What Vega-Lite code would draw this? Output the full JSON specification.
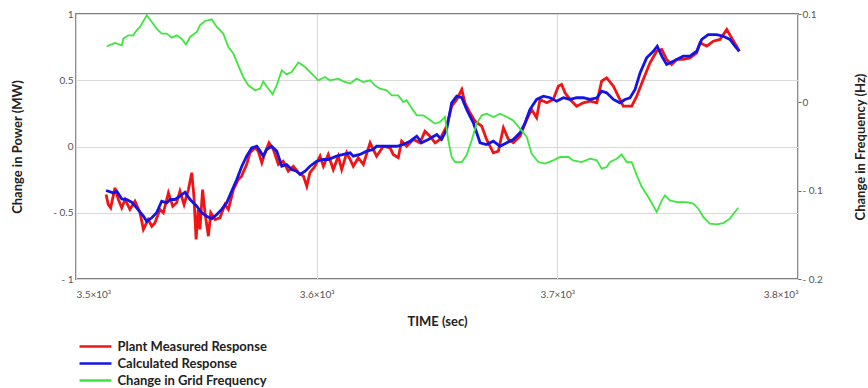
{
  "$schema": "https://vega.github.io/schema/vega-lite/v6.json",
  "autosize": {"type": "none"},
  "padding": {"left": 76, "top": 14, "right": 70, "bottom": 109},
  "width": 722,
  "height": 265,
  "background": "white",
  "config": {
    "font": "Lato",
    "view": {"stroke": "#808080", "strokeWidth": 1.8},
    "axis": {"labelFont": "Lato", "labelFontSize": 10, "labelColor": "#555555", "titleFont": "Lato", "titleFontSize": 13, "titleFontWeight": "bold", "titleColor": "#222222", "gridColor": "#d9d9d9", "gridWidth": 1, "domain": false, "tickColor": "#666666"},
    "legend": {"orient": "none", "legendX": 9.5, "legendY": 322.5, "padding": 0, "symbolType": "M-1.88,0H1.88", "symbolSize": 289, "symbolStrokeWidth": 2.5, "labelFont": "Lato", "labelFontSize": 13, "labelFontWeight": "bold", "labelColor": "#222222", "labelOffset": 12, "rowPadding": 0, "title": null}
  },
  "datasets": {
    "measured": [
      {"t":3512.5,"v":-0.362},{"t":3513.4,"v":-0.438},{"t":3514.4,"v":-0.463},{"t":3516.2,"v":-0.312},{"t":3517.6,"v":-0.4},{"t":3519.0,"v":-0.463},{"t":3520.4,"v":-0.4},{"t":3522.4,"v":-0.475},{"t":3524.5,"v":-0.413},{"t":3526.6,"v":-0.5},{"t":3528.0,"v":-0.626},{"t":3530.0,"v":-0.551},{"t":3531.5,"v":-0.602},{"t":3532.8,"v":-0.576},{"t":3534.9,"v":-0.475},{"t":3536.3,"v":-0.5},{"t":3538.4,"v":-0.349},{"t":3540.2,"v":-0.451},{"t":3541.8,"v":-0.425},{"t":3543.2,"v":-0.337},{"t":3544.9,"v":-0.438},{"t":3546.7,"v":-0.325},{"t":3548.1,"v":-0.198},{"t":3549.0,"v":-0.375},{"t":3549.9,"v":-0.702},{"t":3550.8,"v":-0.475},{"t":3551.5,"v":-0.626},{"t":3552.6,"v":-0.325},{"t":3553.6,"v":-0.5},{"t":3555.0,"v":-0.677},{"t":3556.0,"v":-0.5},{"t":3557.8,"v":-0.551},{"t":3559.8,"v":-0.538},{"t":3561.9,"v":-0.438},{"t":3563.3,"v":-0.475},{"t":3565.4,"v":-0.325},{"t":3567.4,"v":-0.249},{"t":3568.8,"v":-0.224},{"t":3570.9,"v":-0.136},{"t":3572.3,"v":-0.048},{"t":3574.4,"v":-0.01},{"t":3575.7,"v":-0.035},{"t":3577.2,"v":-0.123},{"t":3578.5,"v":-0.048},{"t":3580.2,"v":0.028},{"t":3582.0,"v":-0.023},{"t":3584.1,"v":-0.136},{"t":3586.1,"v":-0.111},{"t":3588.2,"v":-0.186},{"t":3590.3,"v":-0.149},{"t":3592.4,"v":-0.198},{"t":3594.5,"v":-0.224},{"t":3595.9,"v":-0.3},{"t":3597.2,"v":-0.198},{"t":3599.3,"v":-0.149},{"t":3601.4,"v":-0.073},{"t":3602.8,"v":-0.149},{"t":3604.8,"v":-0.06},{"t":3606.9,"v":-0.174},{"t":3609.0,"v":-0.073},{"t":3610.4,"v":-0.174},{"t":3612.5,"v":-0.048},{"t":3613.9,"v":-0.098},{"t":3615.2,"v":-0.149},{"t":3617.3,"v":-0.085},{"t":3619.4,"v":-0.136},{"t":3622.2,"v":0.028},{"t":3624.9,"v":-0.073},{"t":3627.7,"v":0.002},{"t":3630.5,"v":-0.01},{"t":3631.8,"v":-0.06},{"t":3633.9,"v":-0.085},{"t":3635.3,"v":0.04},{"t":3637.4,"v":0.002},{"t":3640.2,"v":0.053},{"t":3642.9,"v":0.028},{"t":3645.0,"v":0.115},{"t":3647.1,"v":0.078},{"t":3649.2,"v":0.028},{"t":3651.2,"v":0.053},{"t":3654.0,"v":0.153},{"t":3656.1,"v":0.304},{"t":3658.2,"v":0.355},{"t":3660.3,"v":0.43},{"t":3661.6,"v":0.33},{"t":3663.7,"v":0.254},{"t":3665.8,"v":0.191},{"t":3668.6,"v":0.153},{"t":3670.6,"v":0.053},{"t":3673.4,"v":-0.048},{"t":3675.5,"v":-0.035},{"t":3677.6,"v":0.141},{"t":3679.7,"v":0.053},{"t":3681.7,"v":0.028},{"t":3684.5,"v":0.078},{"t":3687.3,"v":0.204},{"t":3689.3,"v":0.279},{"t":3691.4,"v":0.217},{"t":3692.8,"v":0.355},{"t":3695.6,"v":0.33},{"t":3698.3,"v":0.355},{"t":3700.4,"v":0.455},{"t":3701.8,"v":0.468},{"t":3703.2,"v":0.405},{"t":3705.3,"v":0.355},{"t":3708.0,"v":0.304},{"t":3710.8,"v":0.33},{"t":3713.6,"v":0.342},{"t":3716.4,"v":0.33},{"t":3718.4,"v":0.493},{"t":3720.5,"v":0.518},{"t":3723.3,"v":0.455},{"t":3725.3,"v":0.38},{"t":3727.4,"v":0.304},{"t":3730.9,"v":0.304},{"t":3733.0,"v":0.38},{"t":3735.7,"v":0.506},{"t":3738.5,"v":0.632},{"t":3741.3,"v":0.719},{"t":3743.4,"v":0.732},{"t":3745.4,"v":0.657},{"t":3747.5,"v":0.619},{"t":3749.6,"v":0.657},{"t":3752.3,"v":0.657},{"t":3755.1,"v":0.669},{"t":3757.9,"v":0.707},{"t":3759.3,"v":0.783},{"t":3762.1,"v":0.757},{"t":3764.8,"v":0.795},{"t":3767.6,"v":0.808},{"t":3770.4,"v":0.883},{"t":3772.4,"v":0.82},{"t":3774.5,"v":0.757},{"t":3775.6,"v":0.719}
    ],
    "calculated": [
      {"t":3512.5,"v":-0.332},{"t":3515.5,"v":-0.35},{"t":3516.9,"v":-0.337},{"t":3519.0,"v":-0.395},{"t":3521.1,"v":-0.4},{"t":3523.1,"v":-0.42},{"t":3525.2,"v":-0.463},{"t":3528.0,"v":-0.526},{"t":3529.4,"v":-0.564},{"t":3531.5,"v":-0.538},{"t":3533.5,"v":-0.5},{"t":3535.6,"v":-0.413},{"t":3537.7,"v":-0.425},{"t":3539.1,"v":-0.4},{"t":3541.1,"v":-0.4},{"t":3543.2,"v":-0.375},{"t":3545.3,"v":-0.345},{"t":3547.4,"v":-0.4},{"t":3550.2,"v":-0.451},{"t":3552.2,"v":-0.5},{"t":3554.3,"v":-0.526},{"t":3556.4,"v":-0.546},{"t":3558.5,"v":-0.513},{"t":3560.5,"v":-0.475},{"t":3562.6,"v":-0.425},{"t":3564.7,"v":-0.337},{"t":3566.8,"v":-0.249},{"t":3568.9,"v":-0.149},{"t":3570.9,"v":-0.073},{"t":3573.0,"v":-0.01},{"t":3575.1,"v":0.002},{"t":3576.5,"v":-0.035},{"t":3577.8,"v":-0.073},{"t":3579.2,"v":-0.023},{"t":3581.3,"v":0.002},{"t":3583.4,"v":-0.035},{"t":3585.5,"v":-0.149},{"t":3587.5,"v":-0.136},{"t":3589.6,"v":-0.174},{"t":3591.7,"v":-0.186},{"t":3593.1,"v":-0.211},{"t":3595.2,"v":-0.186},{"t":3597.2,"v":-0.149},{"t":3600.0,"v":-0.111},{"t":3602.8,"v":-0.098},{"t":3604.8,"v":-0.098},{"t":3608.3,"v":-0.073},{"t":3611.1,"v":-0.06},{"t":3613.9,"v":-0.048},{"t":3615.2,"v":-0.073},{"t":3618.0,"v":-0.06},{"t":3620.8,"v":-0.035},{"t":3623.5,"v":-0.023},{"t":3624.9,"v":0.002},{"t":3627.7,"v":0.002},{"t":3630.5,"v":0.002},{"t":3633.3,"v":0.002},{"t":3636.0,"v":0.015},{"t":3638.8,"v":0.04},{"t":3641.6,"v":0.078},{"t":3643.6,"v":0.028},{"t":3646.4,"v":0.053},{"t":3649.9,"v":0.091},{"t":3651.9,"v":0.053},{"t":3654.0,"v":0.128},{"t":3656.1,"v":0.33},{"t":3658.2,"v":0.38},{"t":3660.3,"v":0.368},{"t":3662.3,"v":0.279},{"t":3665.1,"v":0.179},{"t":3667.9,"v":0.028},{"t":3670.6,"v":0.015},{"t":3673.4,"v":0.04},{"t":3676.2,"v":0.002},{"t":3679.0,"v":0.028},{"t":3681.7,"v":0.053},{"t":3684.5,"v":0.103},{"t":3686.6,"v":0.179},{"t":3688.6,"v":0.279},{"t":3691.4,"v":0.355},{"t":3694.2,"v":0.38},{"t":3697.0,"v":0.368},{"t":3699.7,"v":0.342},{"t":3702.5,"v":0.368},{"t":3705.3,"v":0.355},{"t":3708.0,"v":0.368},{"t":3710.8,"v":0.368},{"t":3713.6,"v":0.355},{"t":3716.4,"v":0.368},{"t":3718.4,"v":0.417},{"t":3720.5,"v":0.405},{"t":3723.3,"v":0.355},{"t":3726.0,"v":0.33},{"t":3728.1,"v":0.355},{"t":3730.2,"v":0.368},{"t":3732.3,"v":0.43},{"t":3734.4,"v":0.556},{"t":3737.1,"v":0.669},{"t":3739.9,"v":0.719},{"t":3741.5,"v":0.757},{"t":3743.4,"v":0.682},{"t":3745.4,"v":0.619},{"t":3748.2,"v":0.644},{"t":3752.3,"v":0.682},{"t":3755.1,"v":0.682},{"t":3757.9,"v":0.719},{"t":3760.0,"v":0.808},{"t":3762.7,"v":0.845},{"t":3766.2,"v":0.845},{"t":3769.0,"v":0.832},{"t":3771.7,"v":0.808},{"t":3773.8,"v":0.757},{"t":3775.6,"v":0.719}
    ],
    "frequency": [
      {"t":3512.8,"f":0.0634},{"t":3516.2,"f":0.0672},{"t":3519.0,"f":0.0646},{"t":3519.7,"f":0.0721},{"t":3521.7,"f":0.0759},{"t":3523.8,"f":0.0759},{"t":3525.2,"f":0.0815},{"t":3526.6,"f":0.0853},{"t":3529.4,"f":0.0985},{"t":3531.5,"f":0.0909},{"t":3533.5,"f":0.0835},{"t":3535.6,"f":0.0778},{"t":3537.7,"f":0.0778},{"t":3539.8,"f":0.0733},{"t":3541.8,"f":0.0759},{"t":3543.9,"f":0.0721},{"t":3545.7,"f":0.0653},{"t":3547.4,"f":0.074},{"t":3550.2,"f":0.0796},{"t":3551.5,"f":0.0872},{"t":3553.6,"f":0.0921},{"t":3556.4,"f":0.094},{"t":3558.5,"f":0.0853},{"t":3561.2,"f":0.0778},{"t":3563.3,"f":0.0626},{"t":3565.4,"f":0.0552},{"t":3567.4,"f":0.0419},{"t":3569.5,"f":0.0287},{"t":3571.6,"f":0.0193},{"t":3574.4,"f":0.0136},{"t":3576.5,"f":0.0155},{"t":3577.8,"f":0.0238},{"t":3579.2,"f":0.0181},{"t":3581.7,"f":0.0091},{"t":3583.4,"f":0.0193},{"t":3585.5,"f":0.0362},{"t":3587.5,"f":0.0317},{"t":3589.6,"f":0.0343},{"t":3592.4,"f":0.045},{"t":3595.2,"f":0.04},{"t":3597.9,"f":0.0325},{"t":3600.7,"f":0.0249},{"t":3603.5,"f":0.0287},{"t":3605.5,"f":0.0249},{"t":3609.0,"f":0.0268},{"t":3611.1,"f":0.0238},{"t":3613.9,"f":0.0212},{"t":3616.6,"f":0.0268},{"t":3619.4,"f":0.023},{"t":3622.2,"f":0.0249},{"t":3624.2,"f":0.0193},{"t":3626.3,"f":0.0155},{"t":3629.1,"f":0.0136},{"t":3631.2,"f":0.0079},{"t":3633.9,"f":0.0079},{"t":3636.0,"f":0.0003},{"t":3637.4,"f":0.0023},{"t":3639.5,"f":-0.0068},{"t":3641.6,"f":-0.0147},{"t":3644.3,"f":-0.0147},{"t":3646.4,"f":-0.0185},{"t":3649.2,"f":-0.0241},{"t":3651.2,"f":-0.0223},{"t":3653.3,"f":-0.0166},{"t":3654.7,"f":-0.043},{"t":3656.1,"f":-0.062},{"t":3657.5,"f":-0.0676},{"t":3660.3,"f":-0.0676},{"t":3662.3,"f":-0.06},{"t":3664.4,"f":-0.043},{"t":3666.5,"f":-0.0241},{"t":3668.6,"f":-0.0147},{"t":3670.6,"f":-0.0128},{"t":3673.4,"f":-0.0166},{"t":3676.2,"f":-0.0128},{"t":3679.0,"f":-0.0166},{"t":3681.7,"f":-0.0204},{"t":3684.5,"f":-0.0298},{"t":3687.3,"f":-0.0393},{"t":3689.3,"f":-0.0581},{"t":3692.1,"f":-0.0676},{"t":3694.9,"f":-0.0694},{"t":3698.3,"f":-0.0657},{"t":3701.1,"f":-0.0619},{"t":3704.6,"f":-0.0619},{"t":3706.6,"f":-0.0657},{"t":3710.1,"f":-0.0676},{"t":3713.6,"f":-0.0638},{"t":3716.4,"f":-0.0657},{"t":3718.4,"f":-0.0751},{"t":3720.5,"f":-0.0733},{"t":3721.9,"f":-0.0676},{"t":3724.7,"f":-0.0638},{"t":3726.7,"f":-0.0589},{"t":3728.8,"f":-0.0676},{"t":3730.9,"f":-0.0676},{"t":3733.0,"f":-0.0827},{"t":3735.1,"f":-0.0959},{"t":3737.8,"f":-0.1072},{"t":3741.3,"f":-0.1242},{"t":3743.4,"f":-0.111},{"t":3744.7,"f":-0.1053},{"t":3746.8,"f":-0.111},{"t":3749.6,"f":-0.1129},{"t":3753.7,"f":-0.1129},{"t":3756.5,"f":-0.1147},{"t":3758.6,"f":-0.1204},{"t":3760.7,"f":-0.1299},{"t":3763.4,"f":-0.1374},{"t":3766.2,"f":-0.1382},{"t":3769.0,"f":-0.1367},{"t":3771.7,"f":-0.1317},{"t":3773.8,"f":-0.1242},{"t":3775.2,"f":-0.1193}
    ]
  },
  "layer": [
    {
      "layer": [
        {
          "data": {"name": "measured"},
          "mark": {"type": "line", "strokeWidth": 2.8},
          "encoding": {
            "x": {"field": "t", "type": "quantitative", "scale": {"domain": [3500, 3800], "nice": false}, "axis": {"values": [3500, 3600, 3700, 3800], "labelExpr": "format(datum.value / 1000, '.1f') + '×10³'", "ticks": false, "labelPadding": 10, "grid": true, "title": "TIME (sec)", "titleY": 42, "titleBaseline": "middle"}},
            "y": {"field": "v", "type": "quantitative", "scale": {"domain": [-1, 1], "nice": false}, "axis": {"orient": "left", "values": [-1, -0.5, 0, 0.5, 1], "labelExpr": "(datum.value < 0 ? '- ' : '') + abs(datum.value)", "ticks": false, "labelPadding": 3, "grid": true, "title": "Change in Power (MW)", "titleAngle": 270, "titleX": -59, "titleY": 132.5, "titleAlign": "center", "titleBaseline": "middle"}},
            "color": {"datum": "Plant Measured Response", "scale": {"domain": ["Plant Measured Response", "Calculated Response", "Change in Grid Frequency"], "range": ["#f01414", "#1414e6", "#3ee63e"]}}
          }
        },
        {
          "data": {"name": "calculated"},
          "mark": {"type": "line", "strokeWidth": 2.8},
          "encoding": {
            "x": {"field": "t", "type": "quantitative"},
            "y": {"field": "v", "type": "quantitative"},
            "color": {"datum": "Calculated Response"}
          }
        }
      ]
    },
    {
      "data": {"name": "frequency"},
      "mark": {"type": "line", "strokeWidth": 1.8},
      "encoding": {
        "x": {"field": "t", "type": "quantitative"},
        "y": {"field": "f", "type": "quantitative", "scale": {"domain": [-0.2, 0.1], "nice": false}, "axis": {"orient": "right", "values": [0.1, 0, -0.1, -0.2], "labelExpr": "(datum.value < 0 ? '- ' : '') + abs(datum.value)", "ticks": true, "tickSize": 3, "labelPadding": 1, "grid": false, "title": "Change in Frequency (Hz)", "titleAngle": 270, "titleX": 62, "titleY": 132.5, "titleAlign": "center", "titleBaseline": "middle"}},
        "color": {"datum": "Change in Grid Frequency"}
      }
    }
  ],
  "resolve": {"scale": {"y": "independent"}}
}
